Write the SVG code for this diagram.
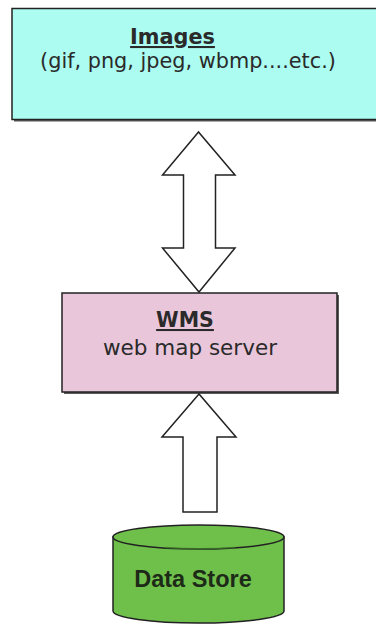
<svg xmlns="http://www.w3.org/2000/svg" width="376" height="624" viewBox="0 0 376 624">
<style>
.box{stroke:#222;stroke-width:1.5}
.shadow{fill:#5a5a5a}
.arrow{fill:#fff;stroke:#222;stroke-width:1.5;stroke-linejoin:miter}
.t{font-family:"DejaVu Sans",Verdana,sans-serif;fill:#2a2a2a;text-anchor:middle}
.b{font-weight:bold;text-decoration:underline}
</style>
<rect width="376" height="624" fill="#fff"/>
<g id="images">
<rect class="shadow" x="14" y="10.5" width="380" height="111"/>
<rect class="box" x="12" y="8.5" width="380" height="111" fill="#acfcf1"/>
<text class="t b" x="172.5" y="44" font-size="20.8">Images</text>
<text class="t" x="188" y="68" font-size="20.8">(gif, png, jpeg, wbmp....etc.)</text>
</g>
<g id="wms">
<rect class="shadow" x="64" y="295" width="275" height="99"/>
<rect class="box" x="62" y="293" width="275" height="99" fill="#e9c6da"/>
<text class="t b" x="185" y="327" font-size="20.5">WMS</text>
<text class="t" x="190" y="355" font-size="21.5">web map server</text>
</g>
<g id="datastore">
<path d="M113,537 L113,611 A85.5,12 0 0 0 284,611 L284,537 Z" fill="#6fc04b" stroke="#222" stroke-width="1.5"/>
<ellipse cx="198.5" cy="537" rx="85.5" ry="12" fill="#6fc04b" stroke="#222" stroke-width="1.5"/>
<path d="M165,547.5 Q198.5,550 235,547.5" fill="none" stroke="#3f7a2a" stroke-width="1.5" opacity="0.7"/>
<text x="193" y="587" font-family="'Liberation Sans',Arial,sans-serif" font-weight="bold" font-size="23.5" fill="#1e2a18" text-anchor="middle">Data Store</text>
</g>
<g id="connectors">
<polygon class="arrow" points="198.5,132 162.5,175 183.5,175 183.5,248 162.5,248 199,292 235,248 215.5,248 215.5,175 235,175"/>
<polygon class="arrow" points="199,394 162,437 183,437 183,512 217,512 217,437 236,437"/>
</g>
</svg>
